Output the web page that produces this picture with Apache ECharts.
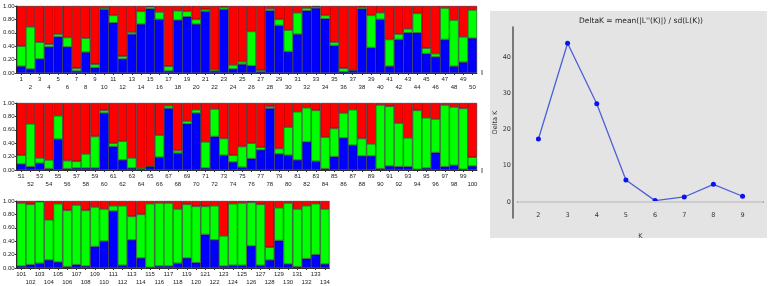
<!DOCTYPE html>
<html><head><meta charset="utf-8">
<script src="https://cdn.jsdelivr.net/npm/echarts@6/dist/echarts.min.js"></script>
<style>html,body{margin:0;padding:0;background:#fff}#c{width:778px;height:286px}</style>
</head><body><div id="c"></div>
<script>
// ---- Data ----
function range(a, b) { const r = []; for (let i = a; i <= b; i++) r.push(String(i)); return r; }
const cats1 = range(1, 50);
const cats2 = range(51, 100);
const cats3 = range(101, 134);

const blue1 = [0.10,0.06,0.21,0.39,0.54,0.39,0.03,0.31,0.08,0.95,0.75,0.21,0.58,0.73,0.96,0.80,0.03,0.79,0.84,0.73,0.92,0.03,0.95,0.06,0.13,0.11,0.02,0.93,0.71,0.32,0.58,0.93,0.97,0.81,0.41,0.02,0.04,0.96,0.38,0.80,0.10,0.50,0.60,0.60,0.29,0.24,0.50,0.10,0.16,0.52];
const green1 = [0.30,0.63,0.25,0.04,0.04,0.14,0.04,0.21,0.05,0.02,0.11,0.04,0.03,0.19,0.03,0.11,0.07,0.14,0.08,0.07,0.03,0.02,0.03,0.06,0.04,0.51,0.02,0.03,0.09,0.32,0.32,0.04,0.02,0.05,0.05,0.05,0.01,0.02,0.48,0.10,0.40,0.08,0.06,0.29,0.08,0.05,0.47,0.69,0.38,0.42];
const red1 = [0.60,0.31,0.54,0.57,0.42,0.47,0.93,0.48,0.87,0.03,0.14,0.75,0.39,0.08,0.01,0.09,0.90,0.07,0.08,0.20,0.05,0.95,0.02,0.88,0.83,0.38,0.96,0.04,0.20,0.36,0.10,0.03,0.01,0.14,0.54,0.93,0.95,0.02,0.14,0.10,0.50,0.42,0.34,0.11,0.63,0.71,0.03,0.21,0.46,0.06];

const blue2 = [0.09,0.05,0.10,0.02,0.46,0.02,0.03,0.03,0.03,0.85,0.35,0.15,0.03,0.01,0.05,0.19,0.92,0.25,0.69,0.85,0.03,0.50,0.22,0.12,0.04,0.17,0.30,0.92,0.24,0.22,0.15,0.42,0.13,0.02,0.20,0.48,0.37,0.21,0.21,0.02,0.06,0.05,0.05,0.01,0.03,0.26,0.05,0.07,0.01,0.06];
const green2 = [0.13,0.64,0.08,0.13,0.35,0.12,0.10,0.21,0.47,0.04,0.05,0.28,0.15,0.02,0.01,0.33,0.04,0.04,0.04,0.05,0.39,0.41,0.25,0.10,0.31,0.23,0.04,0.03,0.08,0.42,0.72,0.51,0.76,0.47,0.42,0.37,0.53,0.26,0.18,0.95,0.89,0.65,0.43,0.88,0.75,0.50,0.92,0.87,0.91,0.13];
const red2 = [0.78,0.31,0.82,0.85,0.19,0.86,0.87,0.76,0.50,0.11,0.60,0.57,0.82,0.97,0.94,0.48,0.04,0.71,0.27,0.10,0.58,0.09,0.53,0.78,0.65,0.60,0.66,0.05,0.68,0.36,0.13,0.07,0.11,0.51,0.38,0.15,0.10,0.53,0.61,0.03,0.05,0.30,0.52,0.11,0.22,0.24,0.03,0.06,0.08,0.81];

const blue3 = [0.03,0.05,0.07,0.12,0.09,0.02,0.05,0.03,0.32,0.40,0.85,0.04,0.42,0.15,0.01,0.03,0.03,0.07,0.15,0.08,0.50,0.42,0.03,0.04,0.04,0.33,0.04,0.12,0.41,0.06,0.02,0.14,0.20,0.06];
const green3 = [0.94,0.90,0.92,0.60,0.87,0.84,0.89,0.83,0.59,0.48,0.08,0.89,0.35,0.65,0.95,0.94,0.94,0.81,0.80,0.84,0.42,0.51,0.45,0.92,0.93,0.65,0.91,0.19,0.49,0.91,0.86,0.79,0.76,0.82];
const red3 = [0.03,0.05,0.01,0.28,0.04,0.14,0.06,0.14,0.09,0.12,0.07,0.07,0.23,0.20,0.04,0.03,0.03,0.12,0.05,0.08,0.08,0.07,0.52,0.04,0.03,0.02,0.05,0.69,0.10,0.03,0.12,0.07,0.04,0.12];

const yTicks = [0, 0.2, 0.4, 0.6, 0.8, 1.0];
const kValues = [2, 3, 4, 5, 6, 7, 8, 9];
const deltaK = [17.4, 43.8, 27.1, 6.1, 0.4, 1.4, 4.9, 1.6];
const dkTicks = [0, 10, 20, 30, 40];

// ---- Chart ----
const chart = echarts.init(document.getElementById('c'), null, {renderer: 'canvas'});
const BLUE = '#0000ff', GREEN = '#00ff00', RED = '#ff0000';
const FONT = 'Liberation Sans';

const grids = [
  {left: 16, top: 6, width: 461, height: 67},
  {left: 16, top: 103, width: 461, height: 67},
  {left: 16, top: 201, width: 313.5, height: 67},
  {left: 518, top: 27, width: 245, height: 191}
];

function barX(i, cats) {
  return {
    type: 'category', gridIndex: i, data: cats, boundaryGap: true,
    axisLine: {show: true, lineStyle: {color: '#333', width: 1}},
    axisTick: {show: true, alignWithLabel: true, interval: 0, length: 2, lineStyle: {color: '#333'}},
    axisLabel: {interval: 0, fontSize: 6, lineHeight: 8, margin: 2, color: '#222', fontFamily: FONT,
      formatter: function (v, idx) { return idx % 2 === 0 ? v : '\n' + v; }},
    splitLine: {show: false}
  };
}
function barY(i) {
  return {
    type: 'value', gridIndex: i, min: 0, max: 1, interval: 0.2,
    axisLine: {show: true, lineStyle: {color: '#333', width: 1}},
    axisTick: {show: true, length: 2, lineStyle: {color: '#333'}},
    axisLabel: {fontSize: 6, margin: 2, color: '#222', fontFamily: FONT,
      formatter: function (v) { return v.toFixed(2); }},
    splitLine: {show: false}
  };
}
function barSeries(i, data, color) {
  return {
    type: 'bar', xAxisIndex: i, yAxisIndex: i, stack: 's' + i, data: data,
    barCategoryGap: '0%', silent: true, animation: false,
    itemStyle: {color: color, borderColor: '#111', borderWidth: 0.5}
  };
}

const option = {
  animation: false,
  grid: grids,
  graphic: [
    {type: 'rect', z: -10, silent: true, shape: {x: 490, y: 11, width: 277, height: 227}, style: {fill: '#e4e4e4'}},
    {type: 'text', x: 641, y: 21, silent: true, style: {text: "DeltaK = mean(|L''(K)|) / sd(L(K))", fontSize: 7.5, fontFamily: 'DejaVu Sans', fill: '#222', textAlign: 'center', textVerticalAlign: 'middle'}},
    {type: 'line', silent: true, shape: {x1: 482, y1: 70, x2: 482, y2: 75}, style: {stroke: '#555', lineWidth: 1}},
    {type: 'line', silent: true, shape: {x1: 482, y1: 168, x2: 482, y2: 173}, style: {stroke: '#555', lineWidth: 1}}
  ],
  xAxis: [
    barX(0, cats1), barX(1, cats2), barX(2, cats3),
    {
      type: 'value', gridIndex: 3, min: 1.3, max: 9.7, offset: 4,
      name: 'K', nameLocation: 'middle', nameGap: 11,
      nameTextStyle: {fontSize: 6.5, color: '#333', fontFamily: 'DejaVu Sans'},
      axisLine: {show: true, lineStyle: {color: '#555', width: 1.5}},
      axisTick: {show: false},
      axisLabel: {customValues: kValues, inside: true, margin: 3, fontSize: 6.5, color: '#333', fontFamily: 'DejaVu Sans'},
      splitLine: {show: false}
    }
  ],
  yAxis: [
    barY(0), barY(1), barY(2),
    {
      type: 'value', gridIndex: 3, min: -4.4, max: 48.3, offset: 5,
      name: 'Delta K', nameLocation: 'middle', nameGap: 14, nameRotate: 90,
      nameTextStyle: {fontSize: 6.5, color: '#333', fontFamily: 'DejaVu Sans'},
      axisLine: {show: true, lineStyle: {color: '#555', width: 1.5}},
      axisTick: {show: false},
      axisLabel: {customValues: dkTicks, margin: 2, fontSize: 6.5, color: '#333', fontFamily: 'DejaVu Sans'},
      splitLine: {show: false}
    }
  ],
  series: [
    barSeries(0, blue1, BLUE), barSeries(0, green1, GREEN), barSeries(0, red1, RED),
    barSeries(1, blue2, BLUE), barSeries(1, green2, GREEN), barSeries(1, red2, RED),
    barSeries(2, blue3, BLUE), barSeries(2, green3, GREEN), barSeries(2, red3, RED),
    {
      type: 'line', xAxisIndex: 3, yAxisIndex: 3,
      data: kValues.map(function (k, i) { return [k, deltaK[i]]; }),
      lineStyle: {color: '#4f5fd8', width: 1.3},
      itemStyle: {color: '#0a14f0'},
      symbol: 'circle', symbolSize: 5, silent: true,
      markLine: {silent: true, symbol: 'none', label: {show: false},
        lineStyle: {color: '#cdcdcd', width: 2, type: 'solid'},
        data: [{yAxis: 0}]}
    }
  ]
};
chart.setOption(option);
</script></body></html>
